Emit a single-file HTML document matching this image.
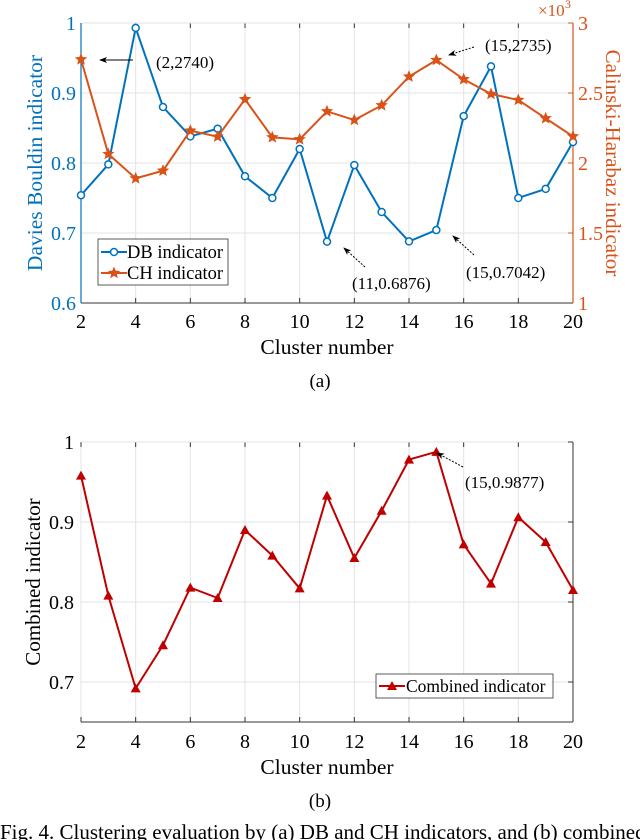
<!DOCTYPE html>
<html><head><meta charset="utf-8"><style>
body{margin:0;background:#fff;}
svg{display:block;font-family:"Liberation Serif",serif;}
</style></head><body>
<svg width="640" height="840" viewBox="0 0 640 840">
<defs><marker id="ah" markerWidth="8" markerHeight="8" refX="7" refY="4" orient="auto"><path d="M0,1 L8,4 L0,7 L2,4 Z" fill="#000"/></marker></defs>
<g id="top"></g>
<g id="bot"></g>
<text x="320" y="387" font-size="19" text-anchor="middle">(a)</text>
<text x="320" y="807" font-size="19" text-anchor="middle">(b)</text>
<text x="0" y="839" font-size="21">Fig. 4.  Clustering evaluation by (a) DB and CH indicators, and (b) combined</text>
</svg>
<script>
const clusters=[2,3,4,5,6,7,8,9,10,11,12,13,14,15,16,17,18,19,20];
const dbValues=[0.754,0.798,0.993,0.880,0.838,0.849,0.781,0.750,0.820,0.6876,0.797,0.730,0.688,0.7042,0.867,0.938,0.750,0.763,0.830];
const chValues=[2.740,2.064,1.890,1.945,2.231,2.188,2.455,2.183,2.169,2.369,2.307,2.412,2.617,2.735,2.598,2.493,2.450,2.319,2.190];
const combValues=[0.958,0.808,0.692,0.746,0.818,0.805,0.890,0.858,0.817,0.933,0.855,0.914,0.978,0.9877,0.872,0.823,0.906,0.875,0.815];
const xTicks=[2,4,6,8,10,12,14,16,18,20];
const dbTicks=[0.6,0.7,0.8,0.9,1];
const dbTickLabels=["0.6","0.7","0.8","0.9","1"];
const chTicks=[1,1.5,2,2.5,3];
const chTickLabels=["1","1.5","2","2.5","3"];
const combTicks=[0.7,0.8,0.9,1];
const combTickLabels=["0.7","0.8","0.9","1"];
const NS="http://www.w3.org/2000/svg";
function mk(p,t,a,txt){const e=document.createElementNS(NS,t);for(const k in a)e.setAttribute(k,a[k]);if(txt!==undefined)e.textContent=txt;p.appendChild(e);return e;}
const X=v=>81+(v-2)*(492/18);
const L=81,R=573;
const TF=20;
// ---- chart a ----
const T=document.getElementById('top');
const yDB=v=>23+(1-v)*700;
const yCH=v=>23+(3-v)*140;
xTicks.forEach(t=>{let g=mk(T,'line',{x1:X(t),x2:X(t),y1:23,y2:303,stroke:'#e3e3e3','stroke-width':1});

mk(T,'line',{x1:X(t),x2:X(t),y1:23,y2:28,stroke:'#333'});mk(T,'line',{x1:X(t),x2:X(t),y1:303,y2:298,stroke:'#333'});
let l=mk(T,'text',{x:X(t),y:328,'font-size':TF,'text-anchor':'middle'},t);
});
dbTicks.forEach((t,i)=>{let g=mk(T,'line',{x1:L,x2:R,y1:yDB(t),y2:yDB(t),stroke:'#e3e3e3'});

let l=mk(T,'text',{x:L-5,y:yDB(t)+7,'font-size':TF,'text-anchor':'end',fill:'#0072BD'},dbTickLabels[i]);
});
chTicks.forEach((t,i)=>{mk(T,'line',{x1:R,x2:R-5,y1:yCH(t),y2:yCH(t),stroke:'#D95319'});
let l=mk(T,'text',{x:R+5,y:yCH(t)+7,'font-size':TF,fill:'#D95319'},chTickLabels[i]);
});
mk(T,'line',{x1:L,x2:R,y1:303,y2:303,stroke:'#333'});
mk(T,'line',{x1:L,x2:L,y1:23,y2:303,stroke:'#0072BD','stroke-width':1.2});
mk(T,'line',{x1:R,x2:R,y1:23,y2:303,stroke:'#D95319','stroke-width':1.2});
mk(T,'text',{x:538,y:16,'font-size':17,fill:'#D95319'},'×10');
mk(T,'text',{x:565,y:8,'font-size':12,fill:'#D95319'},'3');
let yt=mk(T,'text',{x:0,y:0,'font-size':21.5,fill:'#0072BD','text-anchor':'middle',transform:'translate(42,163) rotate(-90)'},'Davies Bouldin indicator');

let yr=mk(T,'text',{x:0,y:0,'font-size':21,fill:'#D95319','text-anchor':'middle',transform:'translate(606,163) rotate(90)'},'Calinski-Harabaz indicator');

let xt=mk(T,'text',{x:327,y:354,'font-size':21.5,'text-anchor':'middle'},'Cluster number');

let p1=mk(T,'polyline',{points:clusters.map((c,i)=>X(c)+','+yDB(dbValues[i])).join(' '),fill:'none',stroke:'#0072BD','stroke-width':2});

clusters.forEach((c,i)=>{let m=mk(T,'circle',{cx:X(c),cy:yDB(dbValues[i]),r:3.5,fill:'#fff',stroke:'#0072BD','stroke-width':1.5});
});
let p2=mk(T,'polyline',{points:clusters.map((c,i)=>X(c)+','+yCH(chValues[i])).join(' '),fill:'none',stroke:'#D95319','stroke-width':2});

function star(g,cx,cy,r,col){let pts=[];for(let k=0;k<10;k++){let a=-Math.PI/2+k*Math.PI/5,rr=k%2?r*0.45:r;pts.push((cx+rr*Math.cos(a)).toFixed(1)+','+(cy+rr*Math.sin(a)).toFixed(1));}return mk(g,'polygon',{points:pts.join(' '),fill:col});}
clusters.forEach((c,i)=>{let s=star(T,X(c),yCH(chValues[i]),6.5,'#D95319');
});
// legend a
let lg=mk(T,'g',{});
mk(lg,'rect',{x:98,y:239,width:130,height:46,fill:'#fff',stroke:'#333','stroke-width':0.8});
mk(lg,'line',{x1:101,x2:127,y1:252,y2:252,stroke:'#0072BD','stroke-width':2});
mk(lg,'circle',{cx:114,cy:252,r:3.5,fill:'#fff',stroke:'#0072BD','stroke-width':1.5});
let le1=mk(lg,'text',{x:127,y:258,'font-size':18.5},'DB indicator');
mk(lg,'line',{x1:101,x2:127,y1:273,y2:273,stroke:'#D95319','stroke-width':2});
star(lg,114,273,6.5,'#D95319');
let le2=mk(lg,'text',{x:127,y:279,'font-size':18.5},'CH indicator');
// annotations a
function ann(g,x1,y1,x2,y2,dash,tx,ty,txt){mk(g,'line',{x1,y1,x2,y2,stroke:'#000','stroke-width':1,'stroke-dasharray':dash?'2,1.5':'none','marker-end':'url(#ah)'});
let t=mk(g,'text',{x:tx,y:ty,'font-size':17},txt);}
ann(T,133,60,100,60,false,156,68,'(2,2740)');
ann(T,474,47,449,55,true,485,51,'(15,2735)');
ann(T,365,267,344,248,true,352,289,'(11,0.6876)');
ann(T,474,255,453,236,true,466,278,'(15,0.7042)');
// ---- chart b ----
const B=document.getElementById('bot');
const yC=v=>442+(1-v)*800;
const BB=722;
xTicks.forEach(t=>{let g=mk(B,'line',{x1:X(t),x2:X(t),y1:442,y2:BB,stroke:'#e3e3e3'});

mk(B,'line',{x1:X(t),x2:X(t),y1:442,y2:447,stroke:'#333'});mk(B,'line',{x1:X(t),x2:X(t),y1:BB,y2:BB-5,stroke:'#333'});
let l=mk(B,'text',{x:X(t),y:748,'font-size':TF,'text-anchor':'middle'},t);
});
combTicks.forEach((t,i)=>{let g=mk(B,'line',{x1:L,x2:R,y1:yC(t),y2:yC(t),stroke:'#e3e3e3'});

mk(B,'line',{x1:R,x2:R-5,y1:yC(t),y2:yC(t),stroke:'#333'});
let l=mk(B,'text',{x:L-7,y:yC(t)+7,'font-size':TF,'text-anchor':'end'},combTickLabels[i]);
});
mk(B,'line',{x1:L,x2:R,y1:BB,y2:BB,stroke:'#333'});
mk(B,'line',{x1:R,x2:R,y1:442,y2:BB,stroke:'#333'});
let by=mk(B,'text',{x:0,y:0,'font-size':21,'text-anchor':'middle',transform:'translate(40,582) rotate(-90)'},'Combined indicator');

let bx=mk(B,'text',{x:327,y:774,'font-size':21.5,'text-anchor':'middle'},'Cluster number');

let p3=mk(B,'polyline',{points:clusters.map((c,i)=>X(c)+','+yC(combValues[i])).join(' '),fill:'none',stroke:'#C00000','stroke-width':2});

function tri(g,cx,cy,col){return mk(g,'polygon',{points:`${cx},${cy-5} ${cx+5},${cy+4} ${cx-5},${cy+4}`,fill:col});}
clusters.forEach((c,i)=>{let m=tri(B,X(c),yC(combValues[i]),'#C00000');
});
let lb=mk(B,'g',{});
mk(lb,'rect',{x:376,y:674,width:177,height:24,fill:'#fff',stroke:'#333','stroke-width':0.8});
mk(lb,'line',{x1:379,x2:405,y1:686,y2:686,stroke:'#C00000','stroke-width':2});
tri(lb,392,686,'#C00000');
let le3=mk(lb,'text',{x:406,y:692,'font-size':17.5},'Combined indicator');
ann(B,463,467,437,453,true,465,488,'(15,0.9877)');
</script>
</body></html>
